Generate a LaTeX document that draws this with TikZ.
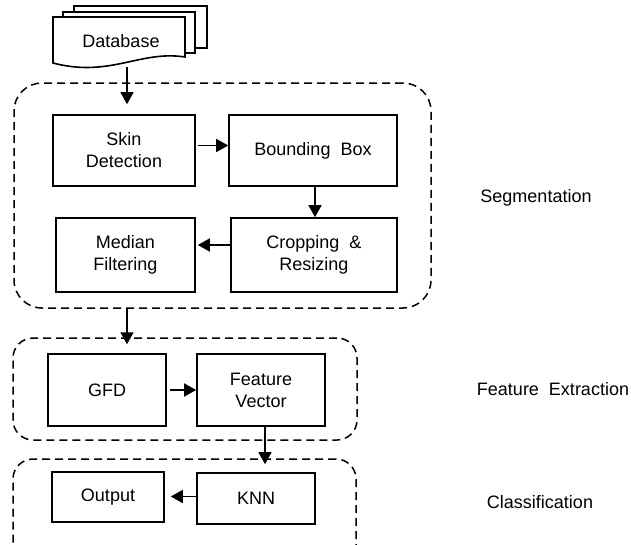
\documentclass[tikz,border=0pt]{standalone}
\usepackage{fontspec}
\setmainfont{Liberation Sans}
\usetikzlibrary{arrows.meta}

\begin{document}
\begin{tikzpicture}[x=1pt, y=-1pt,
    every node/.style={font=\fontsize{18}{22}\selectfont},
    stage/.style={draw, line width=1.6pt, align=center, inner sep=0pt},
    group/.style={draw, dashed, dash pattern=on 8pt off 5pt, line width=1.5pt, rounded corners=28pt, inner sep=0pt},
    arr/.style={-{Triangle[length=12pt,width=13pt]}, line width=1.6pt}]
    \clip (0,0) rectangle (631,544);

    % Database (stacked documents)
    \draw[line width=1.6pt, fill=white] (74,6) rectangle (207,48);
    \draw[line width=1.6pt, fill=white] (63,12) rectangle (195,53);
    \draw[line width=1.6pt, fill=white] (53,17) -- (185,17) -- (185,57)
        .. controls (140,50) and (110,78) .. (53,63) -- cycle;
    \node (db) at (121,41) {Database};
    \coordinate (dbfoot) at (127,67);

    % Dashed stage groups
    \node[group, minimum width=417pt, minimum height=225pt] (seg) at (222.5,195.5) {};
    \node[group, minimum width=344pt, minimum height=102pt, rounded corners=20pt] (feat) at (185,389) {};
    \node[group, minimum width=343pt, minimum height=110pt, rounded corners=20pt] (cls) at (184.5,514) {};

    % Segmentation steps
    \node[stage, minimum width=142pt, minimum height=71pt] (skin) at (124,150.5) {Skin\\Detection};
    \node[stage, minimum width=168pt, minimum height=71pt] (bbox) at (313,150.5) {Bounding~~Box};
    \node[stage, minimum width=166pt, minimum height=74pt] (crop) at (314,255) {Cropping~~\&\\Resizing};
    \node[stage, minimum width=139pt, minimum height=74pt] (median) at (125.5,255) {Median\\Filtering};

    % Feature extraction steps
    \node[stage, minimum width=118pt, minimum height=72pt] (gfd) at (107,390) {GFD};
    \node[stage, minimum width=128pt, minimum height=72pt] (fv) at (261,390) {Feature\\Vector};

    % Classification steps
    \node[stage, minimum width=112pt, minimum height=50pt] (out) at (108,497) {Output};
    \node[stage, minimum width=118pt, minimum height=51pt] (knn) at (256,498.5) {KNN};

    % Stage labels
    \node (lseg) at (536,198) {Segmentation};
    \node (lfeat) at (553,389) {Feature~~Extraction};
    \node (lcls) at (540,502) {Classification};

    % Arrows
    \draw[arr, shorten >=10pt] (dbfoot) -- (dbfoot |- skin.north);
    \draw[arr, shorten <=2pt] ([yshift=5pt]skin.east) -- ([yshift=5pt]bbox.west);
    \draw[arr] ([xshift=2pt]bbox.south) -- ([xshift=2pt]bbox.south |- crop.north);
    \draw[arr, shorten >=2pt] ([yshift=10pt]crop.west) -- ([yshift=10pt]median.east);
    \draw[arr] (seg.south -| dbfoot) -- ([yshift=-7pt]feat.north -| dbfoot);
    \draw[arr, shorten <=3pt] (gfd.east) -- (fv.west);
    \draw[arr, shorten >=8pt] ([xshift=4pt]fv.south) -- ([xshift=4pt]fv.south |- knn.north);
    \draw[arr, shorten >=6pt] ([yshift=2pt]knn.west) -- ([yshift=2pt]knn.west -| out.east);
\end{tikzpicture}
\end{document}
